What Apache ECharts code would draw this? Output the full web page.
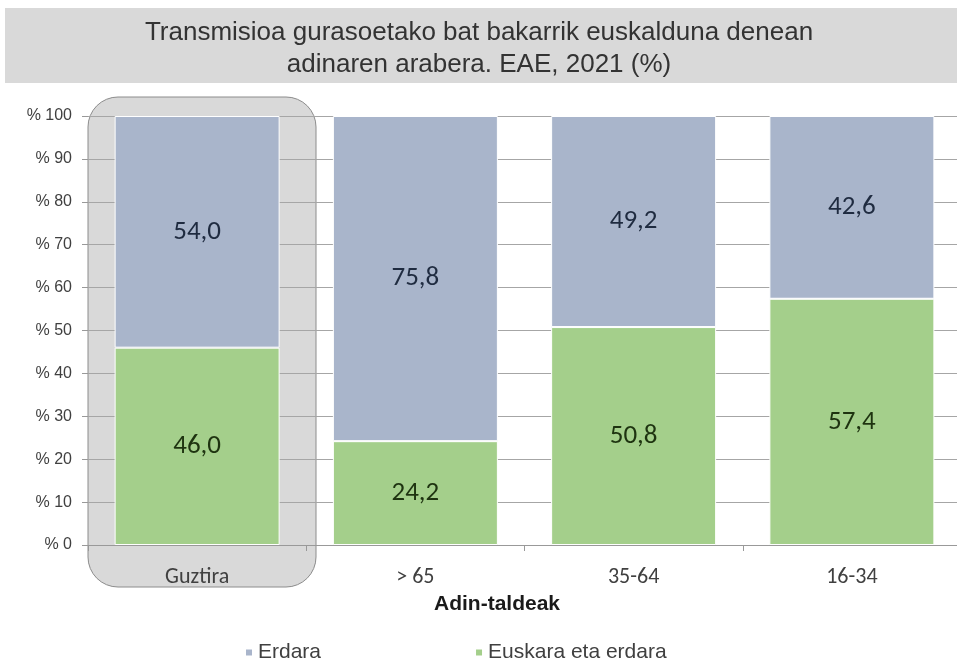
<!DOCTYPE html>
<html><head><meta charset="utf-8">
<script src="https://cdn.jsdelivr.net/npm/echarts@6/dist/echarts.min.js"></script>
<style>html,body{margin:0;padding:0;background:#fff}#c{width:957px;height:664px}</style>
</head><body><div id="c"></div>
<script>
const categories = ['Guztira', '> 65', '35-64', '16-34'];
const erdara = [54.0, 75.8, 49.2, 42.6];
const euskaraEtaErdara = [46.0, 24.2, 50.8, 57.4];
const yTicks = [0, 10, 20, 30, 40, 50, 60, 70, 80, 90, 100];
const fmt = v => v.toFixed(1).replace('.', ',');

const chart = echarts.init(document.getElementById('c'));
chart.setOption({
  backgroundColor: '#ffffff',
  animation: false,
  graphic: [
    { type: 'rect', z: -10, shape: { x: 5, y: 8, width: 957, height: 75 }, style: { fill: '#d9d9d9' } },
    { type: 'text', z: 10, x: 479, y: 17,
      style: { text: 'Transmisioa gurasoetako bat bakarrik euskalduna denean\nadinaren arabera. EAE, 2021 (%)',
        font: '26px "Liberation Sans", Arial, sans-serif', fill: '#333333', align: 'center', lineHeight: 32 } },
    { type: 'rect', z: -5, shape: { x: 88, y: 97, width: 228, height: 490, r: 30 },
      style: { fill: '#d9d9d9', stroke: '#8c8c8c', lineWidth: 1 } },
    { type: 'text', z: 10, x: 497, y: 594,
      style: { text: 'Adin-taldeak', font: 'bold 21px "Liberation Sans", Arial, sans-serif', fill: '#1a1a1a', align: 'center' } }
  ],
  grid: { left: 88, top: 116, right: -4, height: 429, containLabel: false, outerBoundsMode: 'none' },
  legend: {
    bottom: -4, left: 239, itemGap: 153, itemWidth: 8, itemHeight: 8, itemTextGap: 4, icon: 'rect',
    textStyle: { fontFamily: '"Liberation Sans", Arial, sans-serif', fontSize: 21, color: '#404040' },
    data: ['Erdara', 'Euskara eta erdara']
  },
  xAxis: {
    type: 'category', data: categories,
    axisLine: { lineStyle: { color: '#999999' } },
    axisTick: { show: true, length: 6, lineStyle: { color: '#999999' } },
    axisLabel: { margin: 21, fontFamily: 'Carlito, Calibri, "Liberation Sans", sans-serif', fontSize: 22, color: '#404040' }
  },
  yAxis: {
    type: 'value', min: 0, max: 100, interval: 10,
    axisLine: { show: false },
    axisTick: { show: true, length: 6, lineStyle: { color: '#999999' } },
    splitLine: { lineStyle: { color: '#a6a6a6' } },
    axisLabel: { margin: 16, fontFamily: '"Liberation Sans", Arial, sans-serif', fontSize: 16, color: '#404040',
      formatter: v => yTicks.includes(v) ? '% ' + v : '' }
  },
  series: [
    { name: 'Euskara eta erdara', type: 'bar', stack: 'a', data: euskaraEtaErdara, barWidth: 165,
      itemStyle: { color: '#a4cf8b', borderColor: '#ffffff', borderWidth: 1 },
      label: { show: true, position: 'inside', formatter: p => fmt(p.value),
        fontFamily: 'Carlito, Calibri, "Liberation Sans", sans-serif', fontSize: 27, color: '#1e3310' } },
    { name: 'Erdara', type: 'bar', stack: 'a', data: erdara, barWidth: 165,
      itemStyle: { color: '#a9b5cb', borderColor: '#ffffff', borderWidth: 1 },
      label: { show: true, position: 'inside', formatter: p => fmt(p.value),
        fontFamily: 'Carlito, Calibri, "Liberation Sans", sans-serif', fontSize: 27, color: '#1f2b40' } }
  ]
});
</script></body></html>
